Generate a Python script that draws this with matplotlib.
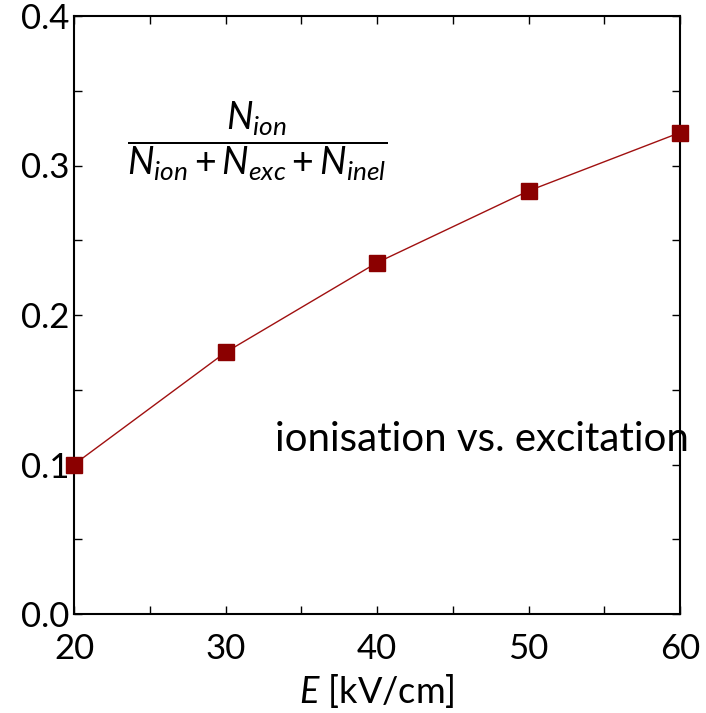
import matplotlib
matplotlib.use("Agg")
import matplotlib.pyplot as plt

plt.rcParams["font.family"] = ["Lato", "DejaVu Sans"]
plt.rcParams["mathtext.fontset"] = "custom"
plt.rcParams["mathtext.rm"] = "Lato"
plt.rcParams["mathtext.it"] = "Lato:italic"

# field strength vs ionisation fraction
field = [20, 30, 40, 50, 60]
frac_ion = [0.100, 0.175, 0.235, 0.283, 0.322]

xticks = [20, 25, 30, 35, 40, 45, 50, 55, 60]
xlabels = ["20", "", "30", "", "40", "", "50", "", "60"]
yticks = [0.0, 0.05, 0.1, 0.15, 0.2, 0.25, 0.3, 0.35, 0.4]
ylabels = ["0.0", "", "0.1", "", "0.2", "", "0.3", "", "0.4"]

fig = plt.figure(figsize=(7.06, 7.13), dpi=100)
fig.subplots_adjust(left=74/706, right=680/706, top=1-16/713, bottom=1-614/713)
ax = fig.add_subplot(111)

ax.plot(field, frac_ion, '-', color='#a01010', lw=1.0)
ax.plot(field, frac_ion, 's', color='#8b0000', ms=11.5, clip_on=False, zorder=5)

ax.set_xlim(20, 60)
ax.set_ylim(0, 0.4)
ax.set_xticks(xticks)
ax.set_xticklabels(xlabels)
ax.set_yticks(yticks)
ax.set_yticklabels(ylabels)
ax.tick_params(direction='in', length=6, width=1, top=True, right=True,
               labelsize=25)
ax.tick_params(axis='x', pad=14)
ax.tick_params(axis='y', pad=3)
for s in ax.spines.values():
    s.set_linewidth(1.5)

ax.set_xlabel("$E$ [kV/cm]", fontsize=26, labelpad=5)

ax.text(32.1, 0.316, r"$\dfrac{N_{ion}}{N_{ion}+N_{exc}+N_{inel}}$",
        fontsize=27, ha='center', va='center')
ax.text(33.3, 0.1165, "ionisation vs. excitation", fontsize=29,
        ha='left', va='center', clip_on=False)

fig.savefig("out.png", dpi=100)
